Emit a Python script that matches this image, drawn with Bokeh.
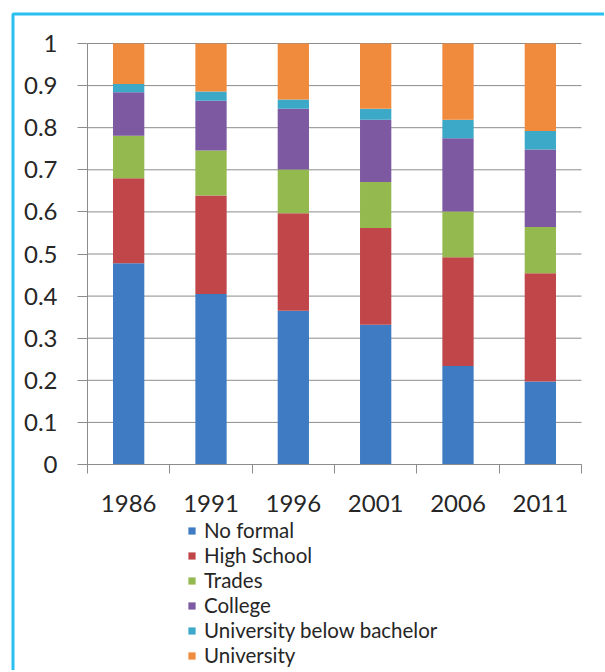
from bokeh.plotting import figure
from bokeh.models import (ColumnDataSource, Range1d, FixedTicker, NumeralTickFormatter,
                          CustomJSTickFormatter, Legend, LegendItem, BoxAnnotation)
from bokeh.embed import file_html
from bokeh.resources import INLINE

years = ["1986", "1991", "1996", "2001", "2006", "2011"]
series = ["No formal", "High School", "Trades", "College",
          "University below bachelor", "University"]
no_formal = [0.478, 0.405, 0.365, 0.332, 0.234, 0.197]
high_school = [0.202, 0.234, 0.232, 0.230, 0.258, 0.257]
trades = [0.101, 0.107, 0.104, 0.109, 0.109, 0.110]
college = [0.103, 0.118, 0.144, 0.148, 0.174, 0.184]
univ_below = [0.020, 0.022, 0.022, 0.026, 0.044, 0.044]
university = [0.096, 0.114, 0.133, 0.155, 0.181, 0.208]
y_ticks = [0, 0.1, 0.2, 0.3, 0.4, 0.5, 0.6, 0.7, 0.8, 0.9, 1]

colors = ["#3F7BC2", "#C0464A", "#93B94F", "#7C59A0", "#3BA9C7", "#F08A3C"]
GRID = "#8C8C8C"
TEXT = "#262626"
FONT = "Lato"

# layout (pixels within the canvas)
W, H = 604, 670
PL, PR, PT, PB = 87, 581, 43, 464

n = len(years)
ux = n / (PR - PL)          # data units per pixel (x)
uy = 1.0 / (PB - PT)        # data units per pixel (y)

keys = ["s0", "s1", "s2", "s3", "s4", "s5"]
data = {"x": [i + 0.5 for i in range(n)]}
for k, vals in zip(keys, [no_formal, high_school, trades, college, univ_below, university]):
    data[k] = vals
src = ColumnDataSource(data)

p = figure(width=W, height=H, output_backend="svg", toolbar_location=None,
           x_range=Range1d(-PL * ux, n + (W - PR) * ux),
           y_range=Range1d(-(H - PB) * uy, 1 + PT * uy),
           min_border_left=0, min_border_right=0, min_border_top=0,
           min_border_bottom=0)
p.outline_line_color = None
p.background_fill_color = "white"
p.border_fill_color = "white"
p.xgrid.visible = False
p.ygrid.visible = False

# gridlines across the plot area only
p.segment(x0=[0] * len(y_ticks), x1=[n] * len(y_ticks), y0=y_ticks, y1=y_ticks,
          line_color=GRID, line_width=1, level="underlay")

rs = p.vbar_stack(keys, x="x", width=0.38, source=src, color=colors, line_color=None)

# y axis
yax = p.yaxis[0]
yax.fixed_location = 0
yax.bounds = (0, 1)
yax.ticker = FixedTicker(ticks=y_ticks, minor_ticks=[])
yax.formatter = NumeralTickFormatter(format="0.[0]")
yax.axis_line_color = GRID
yax.major_tick_line_color = GRID
yax.major_tick_out = 10
yax.major_tick_in = 0
yax.minor_tick_line_color = None
yax.major_label_standoff = 20
yax.major_label_text_font = FONT
yax.major_label_text_font_size = "24px"
yax.major_label_text_color = TEXT

# x axis
xax = p.xaxis[0]
xax.fixed_location = 0
xax.bounds = (0, n)
xax.ticker = FixedTicker(ticks=[i + 0.5 for i in range(n)],
                         minor_ticks=list(range(n + 1)))
xax.formatter = CustomJSTickFormatter(args=dict(labels=years),
                                      code="return labels[Math.floor(tick)] || ''")
xax.axis_line_color = GRID
xax.major_tick_line_color = None
xax.major_tick_out = 0
xax.major_tick_in = 0
xax.minor_tick_line_color = GRID
xax.minor_tick_out = 9
xax.minor_tick_in = 0
xax.major_label_standoff = 21
xax.major_label_text_font = FONT
xax.major_label_text_font_size = "24px"
xax.major_label_text_color = TEXT

legend = Legend(items=[LegendItem(label=s, renderers=[r]) for s, r in zip(series, rs)],
                location=(187, 3), orientation="vertical",
                label_text_font=FONT, label_text_font_size="20.5px", label_text_color=TEXT,
                glyph_width=9, glyph_height=9, label_standoff=8, label_height=20,
                spacing=1, padding=0, margin=0, border_line_color=None,
                background_fill_alpha=0)
p.add_layout(legend)

frame_box = BoxAnnotation(left=12.5, right=5000, top=13.5, bottom=5000,
                          left_units="canvas", right_units="canvas",
                          top_units="canvas", bottom_units="canvas",
                          fill_alpha=0, line_color="#29BFEF", line_alpha=1.0,
                          line_width=3, level="overlay")
p.add_layout(frame_box)

open("out.html", "w").write(file_html(p, INLINE))
